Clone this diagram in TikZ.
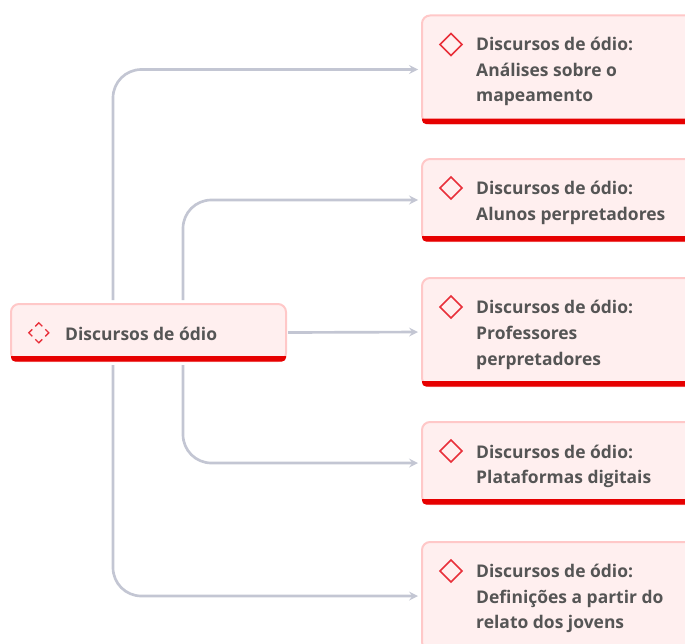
\documentclass[tikz,border=0pt]{standalone}
\usepackage{fontspec}
\setmainfont{Open Sans}
\usetikzlibrary{calc}
\usetikzlibrary{arrows}
\usetikzlibrary{shapes.geometric}
\tikzset{>=stealth}

\definecolor{boxfill}{HTML}{FFEFEF}
\definecolor{boxline}{HTML}{FFC8C8}
\definecolor{barred}{HTML}{E60000}
\definecolor{iconred}{HTML}{E8303A}
\definecolor{textgray}{HTML}{555555}
\definecolor{linkgray}{HTML}{C3C6D3}

\tikzset{
	topic/.style = {rectangle, draw = boxline, fill = boxfill, line width = 0.06cm, rounded corners = 0.24cm, anchor = west, outer sep = 0},
	caption/.style = {anchor = west, align = left, inner sep = 0, text = textgray, font = {\fontsize{14.9pt}{22pt}\selectfont\bfseries}},
	icon/.style = {diamond, draw = iconred, line width = 0.045cm, minimum size = 0.68cm, inner sep = 0},
	link/.style = {draw = linkgray, line width = 0.08cm, ->, rounded corners = 0.85cm, shorten > = 0.12cm}
}

\begin{document}
\begin{tikzpicture}[x = 0.03cm, y = -0.03cm]
\clip (0,0) rectangle (685,643);

\node[topic, minimum width = 8.25cm, minimum height = 1.71cm] (ROOT) at (11, 332.5) {};
\node[topic, minimum width = 9cm, minimum height = 3.24cm] (ANALISES) at (422, 69.5) {};
\node[topic, minimum width = 9cm, minimum height = 2.46cm] (ALUNOS) at (422, 200) {};
\node[topic, minimum width = 9cm, minimum height = 3.24cm] (PROFS) at (422, 332) {};
\node[topic, minimum width = 9cm, minimum height = 2.46cm] (PLAT) at (422, 463) {};
\node[topic, minimum width = 9cm, minimum height = 3.24cm] (DEF) at (422, 596) {};

\node[caption] (ROOT-Text) at ($(ROOT.west) + (54,1)$) {Discursos de ódio};
\node[caption] (ANALISES-Text) at ($(ANALISES.west) + (54,2)$) {Discursos de ódio:\\ Análises sobre o\\ mapeamento};
\node[caption] (ALUNOS-Text) at ($(ALUNOS.west) + (54,3)$) {Discursos de ódio:\\ Alunos perpretadores};
\node[caption] (PROFS-Text) at ($(PROFS.west) + (54,3)$) {Discursos de ódio:\\ Professores\\ perpretadores};
\node[caption] (PLAT-Text) at ($(PLAT.west) + (54,3.5)$) {Discursos de ódio:\\ Plataformas digitais};
\node[caption] (DEF-Text) at ($(DEF.west) + (54,2.5)$) {Discursos de ódio:\\ Definições a partir do\\ relato dos jovens};

% red bars along the bottom
\foreach \n in {ROOT, ANALISES, ALUNOS, PROFS, PLAT, DEF}
	\fill[barred] ($(\n.south west) + (0,-5)$) [rounded corners = 0.12cm] -- ($(\n.south west) + (0,0.5)$) -- ($(\n.south east) + (0,0.5)$) [sharp corners] -- ($(\n.south east) + (0,-5)$) -- cycle;

\foreach \n in {ANALISES, ALUNOS, PROFS, PLAT, DEF}
	\node[icon] (ICON-\n) at ($(\n.north west) + (29,29)$) {};

\coordinate (ROOT-Icon) at (38.8, 332.8);
\begin{scope}[shift = {(ROOT-Icon)}]
\foreach \a in {0, 90, 180, 270}
	\draw[iconred, line width = 0.04cm, rotate = \a] (-3.5,-6.5) -- (0,-10) -- (3.5,-6.5);
\end{scope}

\coordinate (TRUNK-Out) at (113, 300);
\coordinate (TRUNK-In) at (183, 300);
\coordinate (TRUNK-Down) at (113, 365);
\coordinate (TRUNK-Low) at (183, 365);
\coordinate (ROOT-East) at (288, 332.5);

\draw[link] (TRUNK-Out) |- (ANALISES.west);
\draw[link] (TRUNK-In) |- (ALUNOS.west);
\draw[link] (ROOT-East) -- (PROFS.west);
\draw[link] (TRUNK-Low) |- (PLAT.west);
\draw[link] (TRUNK-Down) |- (DEF.west);
\end{tikzpicture}
\end{document}
